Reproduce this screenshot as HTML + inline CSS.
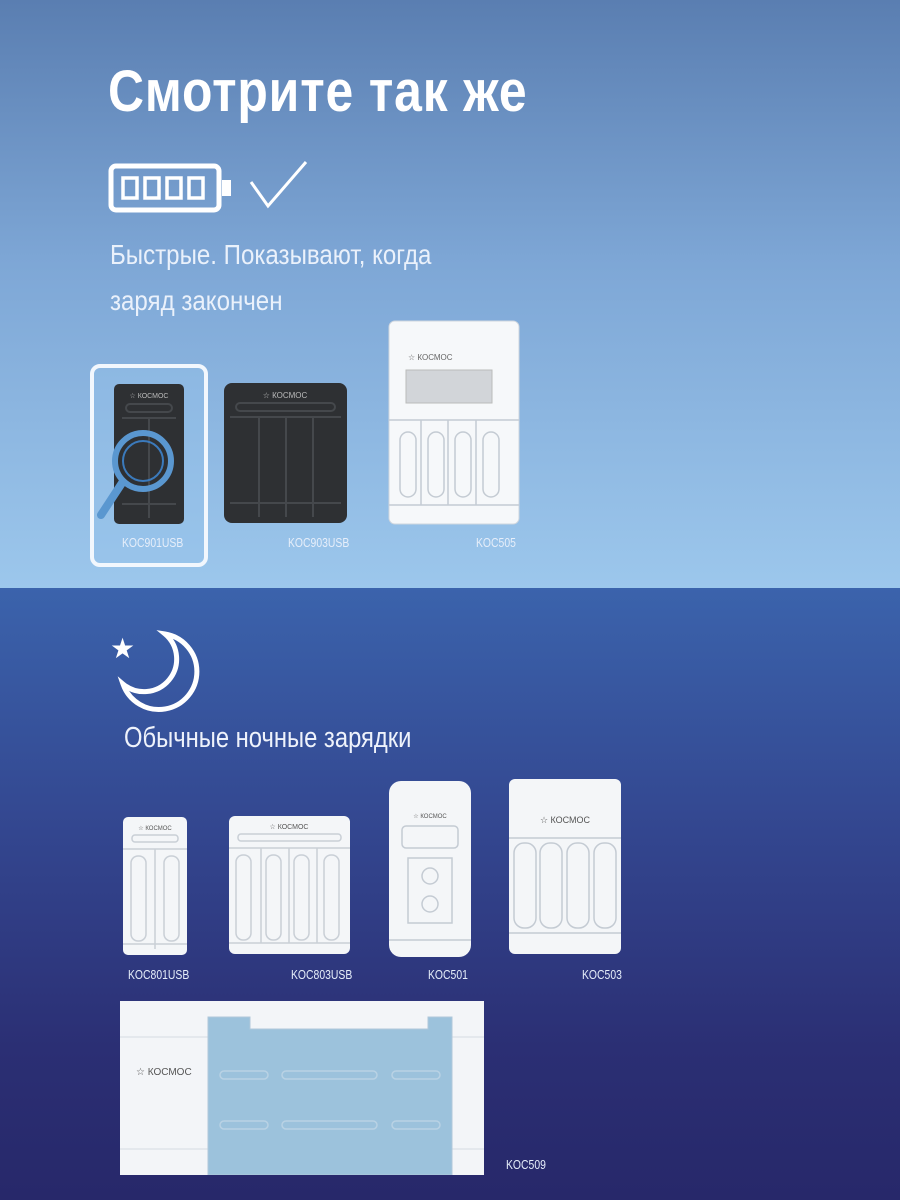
<!DOCTYPE html>
<html><head><meta charset="utf-8"><style>
*{margin:0;padding:0;box-sizing:border-box}
body{width:900px;height:1200px;overflow:hidden;position:relative;font-family:"Liberation Sans","DejaVu Sans",sans-serif}
.top{position:absolute;left:0;top:0;width:900px;height:588px;background:linear-gradient(#5a7eb1,#7ea7d6 45%,#9cc7ec)}
.bot{position:absolute;left:0;top:588px;width:900px;height:612px;background:linear-gradient(#3b63ac,#33468f 40%,#2b2f74 75%,#27286a)}
.t{position:absolute;color:#fff;white-space:nowrap}
.lbl{position:absolute;color:#e6eefa;font-size:13px;transform:scaleX(.8);transform-origin:left}
svg{position:absolute}
</style></head><body>
<div class="top"></div><div class="bot"></div>
<div class="t" style="left:108px;top:58px;font-size:58px;font-weight:bold;transform:scaleX(.86);transform-origin:left;letter-spacing:1px">Смотрите так же</div>
<svg style="left:108px;top:158px" width="200" height="60">
<rect x="3" y="8" width="108" height="44" rx="5" fill="none" stroke="#fff" stroke-width="5"/>
<rect x="114" y="22" width="9" height="16" fill="#fff"/>
<g fill="none" stroke="#fff" stroke-width="3.5"><rect x="15" y="20" width="14" height="20"/><rect x="37" y="20" width="14" height="20"/><rect x="59" y="20" width="14" height="20"/><rect x="81" y="20" width="14" height="20"/></g>
<polyline points="143,24 160,48 198,4" fill="none" stroke="#fff" stroke-width="3"/>
</svg>
<div class="t" style="left:110px;top:232px;font-size:28px;line-height:46px;color:#eaf1fb;transform:scaleX(.86);transform-origin:left">Быстрые. Показывают, когда<br>заряд закончен</div>

<div style="position:absolute;left:90px;top:364px;width:118px;height:203px;border:4px solid #f2f7fd;border-radius:10px;background:rgba(150,195,235,.4)"></div>
<svg style="left:114px;top:384px" width="70" height="140"><rect width="70" height="140" rx="5" fill="#2e3033"/><g stroke="#45484c" fill="none" stroke-width="2"><rect x="12" y="20" width="46" height="8" rx="4"/><path d="M8 34h54M35 34v100M8 120h54"/></g><text x="35" y="14" font-size="7" fill="#bbb" text-anchor="middle">☆ КОСМОС</text></svg>
<svg style="left:95px;top:425px" width="90" height="100"><circle cx="48" cy="36" r="28" fill="none" stroke="#5a97d0" stroke-width="6"/><circle cx="48" cy="36" r="20" fill="none" stroke="#3b7abc" stroke-width="2"/><line x1="27" y1="58" x2="6" y2="90" stroke="#5a97d0" stroke-width="8" stroke-linecap="round"/></svg>
<svg style="left:224px;top:383px" width="123" height="140"><rect width="123" height="140" rx="8" fill="#2e3033"/><g stroke="#45484c" fill="none" stroke-width="2"><rect x="12" y="20" width="99" height="8" rx="4"/><path d="M6 34h111M35 34v100M62 34v100M89 34v100M6 120h111"/></g><text x="61" y="15" font-size="8" fill="#bbb" text-anchor="middle">☆ КОСМОС</text></svg>
<svg style="left:388px;top:320px" width="132" height="205"><rect x="1" y="1" width="130" height="203" rx="6" fill="#f6f8fa" stroke="#cfd6de"/><rect x="18" y="50" width="86" height="33" fill="#d2d5d9" stroke="#bbb"/><text x="20" y="40" font-size="8" fill="#666">☆ КОСМОС</text><g stroke="#c4cbd3" fill="none" stroke-width="1.5"><path d="M1 100h130M1 185h130M33 100v85M60 100v85M88 100v85"/><rect x="12" y="112" width="16" height="65" rx="8"/><rect x="40" y="112" width="16" height="65" rx="8"/><rect x="67" y="112" width="16" height="65" rx="8"/><rect x="95" y="112" width="16" height="65" rx="8"/></g></svg>
<div class="lbl" style="left:122px;top:535px">KOC901USB</div>
<div class="lbl" style="left:288px;top:535px">KOC903USB</div>
<div class="lbl" style="left:476px;top:535px">KOC505</div>

<svg style="left:110px;top:628px" width="100" height="90"><text x="0" y="30" font-size="28" fill="#fff">★</text><path d="M55 6a38 38 0 1 1-42 50a32 32 0 0 0 42-50z" fill="none" stroke="#fff" stroke-width="5"/></svg>
<div class="t" style="left:124px;top:722px;font-size:29px;color:#eef2fb;transform:scaleX(.82);transform-origin:left">Обычные ночные зарядки</div>

<svg style="left:122px;top:816px" width="66" height="140"><rect x="1" y="1" width="64" height="138" rx="5" fill="#f4f6f8"/><g stroke="#c9cfd6" fill="none" stroke-width="1.5"><rect x="10" y="19" width="46" height="7" rx="3"/><path d="M1 33h64M33 33v100M1 128h64"/><rect x="9" y="40" width="15" height="85" rx="7"/><rect x="42" y="40" width="15" height="85" rx="7"/></g><text x="33" y="14" font-size="6" fill="#555" text-anchor="middle">☆ КОСМОС</text></svg>
<svg style="left:228px;top:815px" width="123" height="140"><rect x="1" y="1" width="121" height="138" rx="6" fill="#f4f6f8"/><g stroke="#c9cfd6" fill="none" stroke-width="1.5"><rect x="10" y="19" width="103" height="7" rx="3"/><path d="M1 33h121M1 128h121M33 33v95M61 33v95M89 33v95"/><rect x="8" y="40" width="15" height="85" rx="7"/><rect x="38" y="40" width="15" height="85" rx="7"/><rect x="66" y="40" width="15" height="85" rx="7"/><rect x="96" y="40" width="15" height="85" rx="7"/></g><text x="61" y="14" font-size="7" fill="#555" text-anchor="middle">☆ КОСМОС</text></svg>
<svg style="left:388px;top:780px" width="84" height="178"><rect x="1" y="1" width="82" height="176" rx="12" fill="#f4f6f8"/><g stroke="#c4cbd3" fill="none" stroke-width="1.5"><rect x="14" y="46" width="56" height="22" rx="4"/><rect x="20" y="78" width="44" height="65"/><circle cx="42" cy="96" r="8"/><circle cx="42" cy="124" r="8"/><path d="M1 160h82"/></g><text x="42" y="38" font-size="6" fill="#555" text-anchor="middle">☆ КОСМОС</text></svg>
<svg style="left:508px;top:778px" width="114" height="177"><rect x="1" y="1" width="112" height="175" rx="6" fill="#f4f6f8"/><g stroke="#c4cbd3" fill="none" stroke-width="1.5"><path d="M1 60h112M1 155h112"/><rect x="6" y="65" width="22" height="85" rx="10"/><rect x="32" y="65" width="22" height="85" rx="10"/><rect x="59" y="65" width="22" height="85" rx="10"/><rect x="86" y="65" width="22" height="85" rx="10"/></g><text x="57" y="45" font-size="9" fill="#555" text-anchor="middle">☆ КОСМОС</text></svg>
<div class="lbl" style="left:128px;top:967px">KOC801USB</div>
<div class="lbl" style="left:291px;top:967px">KOC803USB</div>
<div class="lbl" style="left:428px;top:967px">KOC501</div>
<div class="lbl" style="left:582px;top:967px">KOC503</div>

<svg style="left:120px;top:1001px" width="364" height="174"><rect width="364" height="174" fill="#f3f5f8"/><path d="M0 36h364M0 148h364" stroke="#d5dbe2"/><path d="M88 16h42v12h178v-12h24v158h-244z" fill="#9cc2dc" stroke="#b0c8da"/><g stroke="#b9d2e4" fill="none" stroke-width="1.5"><rect x="100" y="70" width="48" height="8" rx="4"/><rect x="162" y="70" width="95" height="8" rx="4"/><rect x="272" y="70" width="48" height="8" rx="4"/><rect x="100" y="120" width="48" height="8" rx="4"/><rect x="162" y="120" width="95" height="8" rx="4"/><rect x="272" y="120" width="48" height="8" rx="4"/></g><text x="16" y="74" font-size="10" fill="#555">☆ КОСМОС</text></svg>
<div class="lbl" style="left:506px;top:1157px">KOC509</div>
</body></html>
